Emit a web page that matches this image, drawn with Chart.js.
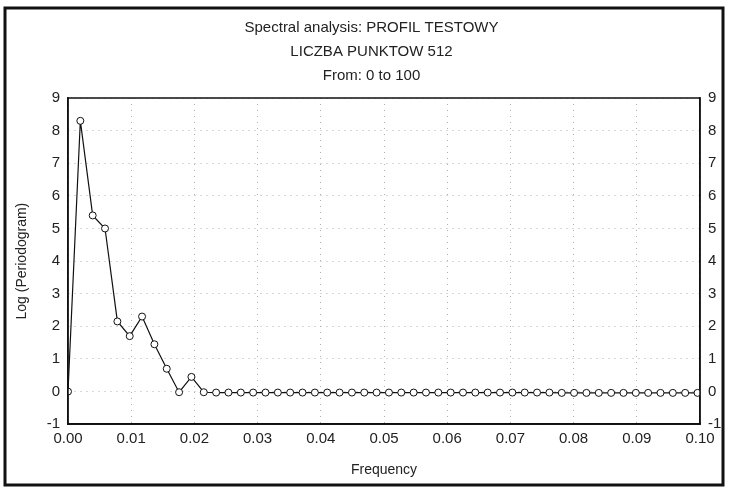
<!DOCTYPE html>
<html lang="en">
<head>
  <meta charset="UTF-8" />
  <title>Spectral analysis</title>
  <script src="https://cdn.jsdelivr.net/npm/chart.js"></script>
  <style>
    html, body {
      margin: 0;
      padding: 0;
      background: #fff;
    }
    .wrap {
      width: 729px;
      height: 491px;
    }
  </style>
</head>
<body>
  <div class="wrap">
    <canvas id="spectrum" width="729" height="491"></canvas>
  </div>

  <script>
    const titleLines = ['Spectral analysis: PROFIL TESTOWY', 'LICZBA PUNKTOW 512', 'From: 0 to 100'];

    // frequency k/512 for k = 0..51
    const frequency = [
      0, 0.001953, 0.003906, 0.005859, 0.007813, 0.009766, 0.011719, 0.013672,
      0.015625, 0.017578, 0.019531, 0.021484, 0.023438, 0.025391, 0.027344, 0.029297,
      0.03125, 0.033203, 0.035156, 0.037109, 0.039063, 0.041016, 0.042969, 0.044922,
      0.046875, 0.048828, 0.050781, 0.052734, 0.054688, 0.056641, 0.058594, 0.060547,
      0.0625, 0.064453, 0.066406, 0.068359, 0.070313, 0.072266, 0.074219, 0.076172,
      0.078125, 0.080078, 0.082031, 0.083984, 0.085938, 0.087891, 0.089844, 0.091797,
      0.09375, 0.095703, 0.097656, 0.099609
    ];

    const logPeriodogram = [
      0.0, 8.3, 5.4, 5.0, 2.15, 1.7, 2.3, 1.45,
      0.7, -0.02, 0.45, -0.02, -0.03, -0.03, -0.03, -0.03,
      -0.03, -0.03, -0.03, -0.03, -0.03, -0.03, -0.03, -0.03,
      -0.03, -0.03, -0.03, -0.03, -0.03, -0.03, -0.03, -0.03,
      -0.03, -0.03, -0.03, -0.03, -0.03, -0.03, -0.03, -0.03,
      -0.04, -0.04, -0.04, -0.04, -0.04, -0.04, -0.04, -0.04,
      -0.04, -0.04, -0.04, -0.04
    ];

    const xTicks = [0, 0.01, 0.02, 0.03, 0.04, 0.05, 0.06, 0.07, 0.08, 0.09, 0.10];
    const yTicks = [-1, 0, 1, 2, 3, 4, 5, 6, 7, 8, 9];

    const font = "'Liberation Sans Narrow', 'Liberation Sans', Arial, sans-serif";

    // outer black frame of the printout and the plot box
    const framePlugin = {
      id: 'frame',
      afterDraw(chart) {
        const ctx = chart.ctx;
        ctx.save();
        ctx.strokeStyle = '#111';
        ctx.lineWidth = 3;
        ctx.strokeRect(5, 8, chart.width - 11, chart.height - 14);
        const a = chart.chartArea;
        ctx.lineWidth = 1.5;
        ctx.strokeRect(a.left, a.top, a.right - a.left, a.bottom - a.top);
        ctx.restore();
      }
    };

    const gridOpts = {
      color: '#b0b0b0',
      lineWidth: 1,
      drawTicks: false
    };

    const ctx = document.getElementById('spectrum').getContext('2d');
    new Chart(ctx, {
      type: 'line',
      data: {
        datasets: [{
          data: frequency.map((f, i) => ({ x: f, y: logPeriodogram[i] })),
          borderColor: '#111',
          borderWidth: 1.2,
          pointRadius: 3.5,
          pointBackgroundColor: '#fff',
          pointBorderColor: '#111',
          pointBorderWidth: 1,
          tension: 0,
          yAxisID: 'y'
        }]
      },
      options: {
        responsive: false,
        animation: false,
        events: [],
        layout: {
          padding: { left: 14, right: 0, top: 10, bottom: 12 }
        },
        plugins: {
          legend: { display: false },
          tooltip: { enabled: false },
          title: {
            display: true,
            text: titleLines,
            color: '#222',
            font: { family: font, size: 15, weight: 'normal', lineHeight: 1.6 },
            padding: { top: 6, bottom: 10 }
          }
        },
        scales: {
          x: {
            type: 'linear',
            min: 0,
            max: 0.1,
            afterBuildTicks(scale) {
              scale.ticks = xTicks.map(v => ({ value: v }));
            },
            ticks: {
              color: '#222',
              font: { family: font, size: 15 },
              padding: 6,
              maxRotation: 0,
              callback: v => v.toFixed(2)
            },
            grid: gridOpts,
            border: { display: true, color: '#111', width: 1.5, dash: [1, 5] },
            title: {
              display: true,
              text: 'Frequency',
              color: '#222',
              font: { family: font, size: 14 },
              padding: { top: 8, bottom: 0 }
            }
          },
          y: {
            position: 'left',
            min: -1,
            max: 9,
            afterBuildTicks(scale) {
              scale.ticks = yTicks.map(v => ({ value: v }));
            },
            afterFit(scale) {
              scale.width = 54;
            },
            ticks: {
              color: '#222',
              font: { family: font, size: 15 },
              padding: 8
            },
            grid: gridOpts,
            border: { display: true, color: '#111', width: 1.5, dash: [1, 5] },
            title: {
              display: true,
              text: 'Log (Periodogram)',
              color: '#222',
              font: { family: font, size: 14 },
              padding: { top: 0, bottom: 12 }
            }
          },
          y2: {
            position: 'right',
            min: -1,
            max: 9,
            afterBuildTicks(scale) {
              scale.ticks = yTicks.map(v => ({ value: v }));
            },
            afterFit(scale) {
              scale.width = 29;
            },
            ticks: {
              color: '#222',
              font: { family: font, size: 15 },
              padding: 0
            },
            grid: { display: false },
            border: { display: true, color: '#111', width: 1.5 }
          }
        }
      },
      plugins: [framePlugin]
    });
  </script>
</body>
</html>
